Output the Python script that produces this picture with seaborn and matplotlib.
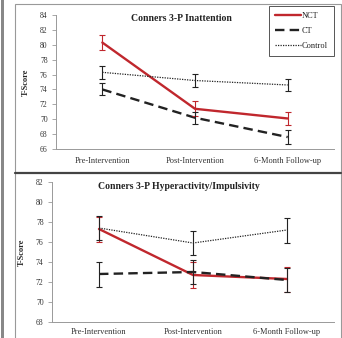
import pandas as pd
import seaborn as sns
import matplotlib.pyplot as plt
from matplotlib.patches import Rectangle
from matplotlib.lines import Line2D

# Dados
fases = ['Pre-Intervention', 'Post-Intervention', '6-Month Follow-up']
grupos = ['NCT', 'CT', 'Control']

inat_nct = [80.3, 71.4, 70.1]
inat_ct = [74.0, 70.2, 67.6]
inat_ctrl = [76.3, 75.2, 74.6]
inat_err_nct = [1.0, 1.0, 0.9]
inat_err_ct = [0.8, 0.8, 0.9]
inat_err_ctrl = [0.9, 0.9, 0.85]

hip_nct = [77.3, 72.7, 72.3]
hip_ct = [72.8, 73.0, 72.2]
hip_ctrl = [77.4, 75.9, 77.2]
hip_err_nct = [1.25, 1.35, 1.25]
hip_err_ct = [1.25, 1.2, 1.2]
hip_err_ctrl = [1.2, 1.2, 1.25]

cores = {'NCT': '#c0272d', 'CT': '#222222', 'Control': '#222222'}
tracos = {'NCT': '', 'CT': (4, 2.2), 'Control': (1, 1)}
larguras = {'NCT': 1.7, 'CT': 1.7, 'Control': 0.9}

sns.set_theme(style='white')
plt.rcParams['font.family'] = ['Liberation Serif', 'DejaVu Serif']
plt.rcParams['text.color'] = '#222222'


def monta_df(nct, ct, ctrl):
    linhas = []
    for g, vals in zip(grupos, [nct, ct, ctrl]):
        for f, v in zip(fases, vals):
            linhas.append({'fase': f, 'grupo': g, 'score': v})
    return pd.DataFrame(linhas)


def desenha_painel(ax, df, erros, titulo, ylim, legenda, pad_x):
    sns.lineplot(data=df, x='fase', y='score', hue='grupo', style='grupo', size='grupo',
                 hue_order=grupos, style_order=grupos, size_order=grupos,
                 palette=cores, dashes=tracos, sizes=larguras, sort=False,
                 legend=legenda, ax=ax)
    for g in grupos:
        sub = df[df['grupo'] == g]
        ax.errorbar(sub['fase'], sub['score'], yerr=erros[g], fmt='none',
                    ecolor=cores[g], elinewidth=0.8, capsize=2, capthick=0.8, zorder=3)
    ax.set_xlim(-0.5, 2.5)
    ax.set_ylim(*ylim)
    ax.set_yticks(range(ylim[0], ylim[1] + 1, 2))
    ax.set_xlabel('')
    ax.set_ylabel('T-Score', fontsize=6, fontweight='bold', labelpad=7)
    ax.set_title(titulo, fontsize=7, fontweight='bold', x=0.45, y=0.89)
    sns.despine(ax=ax)
    for s in ['left', 'bottom']:
        ax.spines[s].set_color('#999999')
        ax.spines[s].set_linewidth(0.7)
    ax.tick_params(axis='y', labelsize=5.5, length=3, width=0.6, color='#999999',
                   pad=3, left=True, labelcolor='#333333')
    ax.tick_params(axis='x', labelsize=6, length=0, pad=pad_x, labelcolor='#333333')
    if legenda:
        sns.move_legend(ax, 'upper right', bbox_to_anchor=(1.0, 1.065), title=None,
                        frameon=True, fontsize=6, handlelength=3.2, handletextpad=0.1,
                        labelspacing=0.85, borderpad=0.7, borderaxespad=0,
                        fancybox=False, edgecolor='#555555', framealpha=1)
        ax.get_legend().get_frame().set_linewidth(0.7)


fig = plt.figure(figsize=(3.42, 3.38), dpi=100)

# bordas da imagem digitalizada
fig.add_artist(Rectangle((0.003, 0), 0.008, 1, transform=fig.transFigure,
                         color='#888888', lw=0))
fig.add_artist(Rectangle((15 / 342, -0.01), 326 / 342, 1 - 4 / 338 + 0.01,
                         transform=fig.transFigure, fill=False, ec='#999999', lw=0.8))
fig.add_artist(Line2D([15 / 342, 341 / 342], [1 - 173 / 338] * 2,
                      transform=fig.transFigure, color='#444444', lw=1.6))

ax1 = fig.add_axes([56 / 342, 1 - 149 / 338, 278 / 342, 134 / 338])
ax2 = fig.add_axes([52 / 342, 1 - 322 / 338, 282 / 342, 140 / 338])

desenha_painel(ax1, monta_df(inat_nct, inat_ct, inat_ctrl),
               {'NCT': inat_err_nct, 'CT': inat_err_ct, 'Control': inat_err_ctrl},
               'Conners 3-P Inattention', (66, 84), True, 6)
desenha_painel(ax2, monta_df(hip_nct, hip_ct, hip_ctrl),
               {'NCT': hip_err_nct, 'CT': hip_err_ct, 'Control': hip_err_ctrl},
               'Conners 3-P Hyperactivity/Impulsivity', (68, 82), False, 4)

fig.savefig('out.png', dpi=100)
